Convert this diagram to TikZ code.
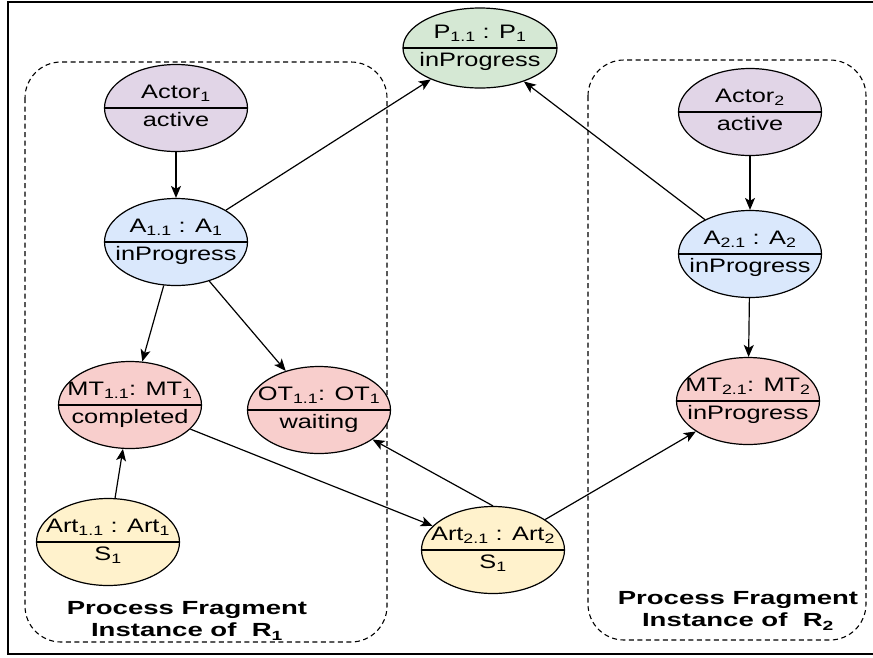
\documentclass[tikz,border=0pt]{standalone}
\usepackage{fontspec}
\setmainfont{Liberation Sans}
\newfontfamily\statefont[FakeStretch=1.3]{Liberation Sans}
\newfontfamily\fragfont[FakeStretch=1.45]{Liberation Sans}
\usetikzlibrary{shapes.geometric,arrows.meta}

\definecolor{actorfill}{HTML}{E1D5E7}
\definecolor{procfill}{HTML}{D5E8D4}
\definecolor{actfill}{HTML}{DAE8FC}
\definecolor{taskfill}{HTML}{F8CECC}
\definecolor{artfill}{HTML}{FFF2CC}

% two compartments of a state ellipse
\newcommand{\statetext}[2]{\makebox[0pt]{\begin{tabular}{@{}c@{}}#1\\[6pt]#2\end{tabular}}}

\begin{document}
\begin{tikzpicture}[x=1pt, y=-1pt,
        state/.style={draw, ellipse, line width=1.2pt, inner sep=0pt,
            minimum width=143pt, minimum height=87pt,
            font=\statefont\fontsize{19.5}{22}\selectfont,
            path picture={\draw[line width=1.2pt] (path picture bounding box.west) -- (path picture bounding box.east);}},
        ar/.style={-{Stealth[length=12pt, width=10pt, inset=3pt]}, line width=1.2pt},
        frag/.style={draw, dash pattern=on 5pt off 3.5pt, line width=1.1pt, rounded corners=36pt},
        fraglabel/.style={font=\fragfont\bfseries\fontsize{19}{22}\selectfont, align=center},
    ]
    \useasboundingbox (0,0) rectangle (873,657);
    \draw[line width=1.6pt] (873,2) -- (8,2) -- (8,654) -- (873,654);

    % process fragment instances
    \draw[frag] (25,62) rectangle (387,642);
    \draw[frag] (588,60) rectangle (866,640);
    \node[fraglabel](lab1) at (187,621) {Process Fragment\\Instance of \ R\textsubscript{1}};
    \node[fraglabel](lab2) at (738,611) {Process Fragment\\Instance of \ R\textsubscript{2}};

    \node[state, fill=procfill, minimum width=154pt, minimum height=80pt](p11) at (480,48) {\statetext{P\textsubscript{1.1} : P\textsubscript{1}}{inProgress}};
    \node[state, fill=actorfill](actor1) at (176,108) {\statetext{Actor\textsubscript{1}}{active}};
    \node[state, fill=actorfill](actor2) at (750,112) {\statetext{Actor\textsubscript{2}}{active}};
    \node[state, fill=actfill](a11) at (176,242) {\statetext{A\textsubscript{1.1} : A\textsubscript{1}}{inProgress}};
    \node[state, fill=actfill](a21) at (750,254) {\statetext{A\textsubscript{2.1} : A\textsubscript{2}}{inProgress}};
    \node[state, fill=taskfill](mt11) at (130,405) {\statetext{MT\textsubscript{1.1}: MT\textsubscript{1}}{completed}};
    \node[state, fill=taskfill](ot11) at (319,410) {\statetext{OT\textsubscript{1.1}: OT\textsubscript{1}}{waiting}};
    \node[state, fill=taskfill](mt21) at (748,401) {\statetext{MT\textsubscript{2.1}: MT\textsubscript{2}}{inProgress}};
    \node[state, fill=artfill](art11) at (108,542) {\statetext{Art\textsubscript{1.1} : Art\textsubscript{1}}{S\textsubscript{1}}};
    \node[state, fill=artfill](art21) at (493,550) {\statetext{Art\textsubscript{2.1} : Art\textsubscript{2}}{S\textsubscript{1}}};

    \path[ar]
    (actor1) edge (a11)
    (actor2) edge (a21)
    (a11) edge (p11) edge (mt11) edge (ot11)
    (a21) edge (p11) edge (mt21)

    (art11) edge (mt11)
    (mt11) edge (art21)
    (art21.north) edge (ot11)
    (art21) edge (mt21)
    ;
\end{tikzpicture}
\end{document}
